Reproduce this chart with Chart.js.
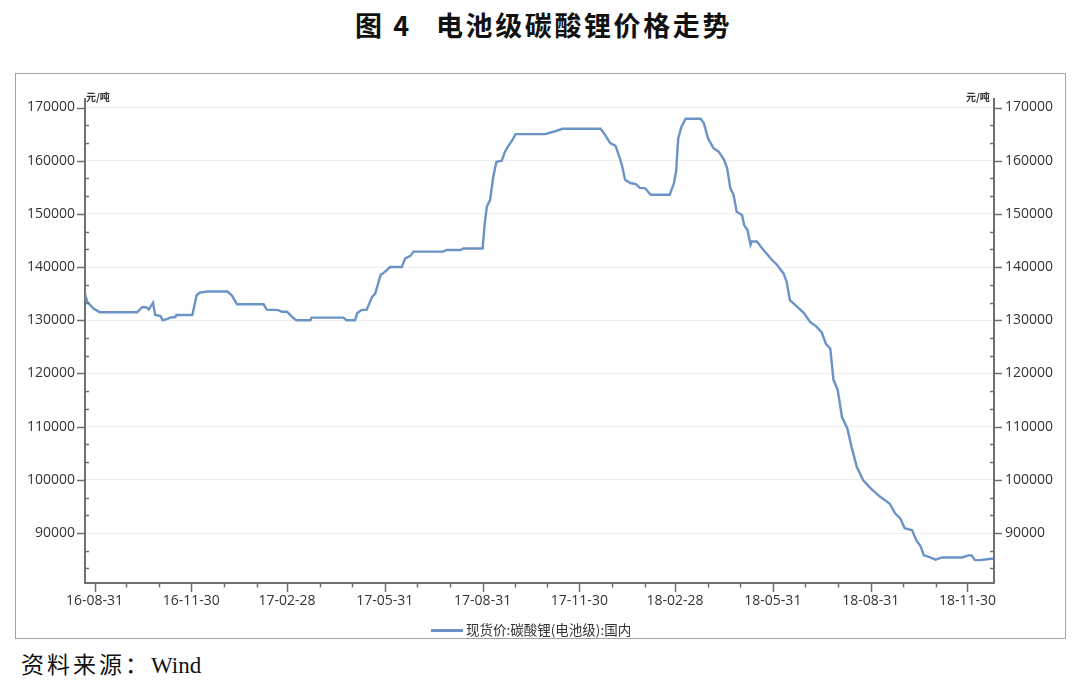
<!DOCTYPE html>
<html>
<head>
<meta charset="utf-8">
<script src="https://cdn.jsdelivr.net/npm/chart.js@4.4.1/dist/chart.umd.min.js"></script>
<style>
  html, body { margin: 0; padding: 0; background: #fff; }
  body { width: 1080px; height: 690px; position: relative; overflow: hidden; font-family: "Noto Sans CJK SC", sans-serif; }
  .title { position: absolute; top: 11px; font-size: 27px; line-height: 28px; font-weight: bold; color: #111; letter-spacing: 2.6px; }
  #frame { position: absolute; left: 15px; top: 73px; width: 1051px; height: 566px; box-sizing: border-box; border: 1.5px solid #a3a3a3; }
  #wrap { position: absolute; left: 15px; top: 73px; width: 1051px; height: 566px; }
  .unit { position: absolute; top: 91px; font-size: 10px; line-height: 11px; color: #333; font-weight: bold; }
  #legend { position: absolute; left: 431px; top: 620px; font-size: 13.5px; line-height: 18px; color: #333; white-space: nowrap; }
  #legend .swatch { display: inline-block; width: 32px; height: 2.5px; background: #6b93c6; vertical-align: middle; margin-right: 3px; position: relative; top: -1px; }
  #source { position: absolute; left: 21px; top: 650px; font-size: 23px; line-height: 26px; color: #111; font-family: "Liberation Serif", "Noto Sans CJK SC", serif; }
  #source .cn { font-family: "Noto Sans CJK SC", sans-serif; letter-spacing: 3px; }
</style>
</head>
<body>
<div class="title" style="left:355px">图 4</div>
<div class="title" style="left:436px">电池级碳酸锂价格走势</div>
<div id="frame"></div>
<div id="wrap"><canvas id="priceChart"></canvas></div>
<span class="unit" style="left:86px">元/吨</span>
<span class="unit" style="left:966px">元/吨</span>
<div id="legend"><span class="swatch"></span>现货价:碳酸锂(电池级):国内</div>
<div id="source"><span class="cn">资料来源：</span>Wind</div>
<script>
// Spot price, battery-grade lithium carbonate (yuan/ton)
const dates = [
  "2016-08-22", "2016-08-24", "2016-08-30", "2016-09-05", "2016-10-10", "2016-10-15", "2016-10-19", "2016-10-21", "2016-10-25", "2016-10-27",
  "2016-11-01", "2016-11-03", "2016-11-07", "2016-11-10", "2016-11-15", "2016-11-16", "2016-12-01", "2016-12-05", "2016-12-08", "2016-12-15",
  "2017-01-03", "2017-01-07", "2017-01-12", "2017-02-06", "2017-02-09", "2017-02-20", "2017-02-23", "2017-02-28", "2017-03-06", "2017-03-09",
  "2017-03-22", "2017-03-23", "2017-04-22", "2017-04-25", "2017-05-03", "2017-05-05", "2017-05-09", "2017-05-14", "2017-05-19", "2017-05-22",
  "2017-05-27", "2017-05-31", "2017-06-05", "2017-06-16", "2017-06-19", "2017-06-24", "2017-06-27", "2017-07-25", "2017-07-28", "2017-08-10",
  "2017-08-13", "2017-08-31", "2017-09-02", "2017-09-04", "2017-09-07", "2017-09-10", "2017-09-13", "2017-09-18", "2017-09-21", "2017-09-24",
  "2017-09-28", "2017-10-01", "2017-10-29", "2017-11-03", "2017-11-07", "2017-11-14", "2017-12-20", "2017-12-24", "2017-12-29", "2018-01-03",
  "2018-01-06", "2018-01-09", "2018-01-12", "2018-01-17", "2018-01-22", "2018-01-26", "2018-01-31", "2018-02-05", "2018-02-23", "2018-02-27",
  "2018-03-01", "2018-03-03", "2018-03-06", "2018-03-10", "2018-03-24", "2018-03-27", "2018-03-31", "2018-04-05", "2018-04-10", "2018-04-15",
  "2018-04-18", "2018-04-21", "2018-04-24", "2018-04-27", "2018-05-02", "2018-05-04", "2018-05-07", "2018-05-10", "2018-05-11", "2018-05-16",
  "2018-05-21", "2018-05-29", "2018-06-04", "2018-06-10", "2018-06-13", "2018-06-16", "2018-06-23", "2018-06-29", "2018-07-05", "2018-07-11",
  "2018-07-16", "2018-07-20", "2018-07-24", "2018-07-27", "2018-07-31", "2018-08-04", "2018-08-09", "2018-08-13", "2018-08-18", "2018-08-24",
  "2018-08-31", "2018-09-09", "2018-09-18", "2018-09-23", "2018-09-28", "2018-10-02", "2018-10-09", "2018-10-13", "2018-10-17", "2018-10-20",
  "2018-10-26", "2018-10-31", "2018-11-06", "2018-11-25", "2018-12-01", "2018-12-04", "2018-12-07", "2018-12-12", "2018-12-24"
]
const prices = [
  135000, 133500, 132200, 131500, 131500, 132500, 132400, 132000, 133300, 131000,
  130800, 130000, 130200, 130500, 130600, 131000, 131000, 134700, 135200, 135400,
  135400, 134700, 133000, 133000, 132000, 131900, 131600, 131600, 130400, 130000,
  130000, 130500, 130500, 130000, 130000, 131300, 131900, 132000, 134400, 135000,
  138500, 139100, 140000, 140000, 141600, 142100, 142900, 142900, 143200, 143200,
  143500, 143500, 148200, 151400, 152600, 157000, 159800, 160000, 161700, 162700,
  163900, 165000, 165000, 165300, 165500, 166000, 166000, 164900, 163300, 162800,
  161100, 159200, 156400, 155800, 155600, 154900, 154800, 153600, 153600, 155800,
  158000, 164200, 166400, 167900, 167900, 167100, 164200, 162400, 161700, 160200,
  158600, 154800, 153600, 150400, 149800, 147900, 147000, 144200, 144800, 144800,
  143500, 141600, 140400, 138800, 137200, 133800, 132500, 131400, 129700, 128800,
  127700, 125500, 124700, 118800, 116900, 111800, 109700, 106200, 102400, 99900,
  98400, 96800, 95500, 93700, 92700, 90900, 90500, 88600, 87500, 85800,
  85400, 85000, 85400, 85400, 85800, 85800, 84900, 84900, 85200
]
const xTickDates = ["2016-08-31", "2016-11-30", "2017-02-28", "2017-05-31", "2017-08-31", "2017-11-30", "2018-02-28", "2018-05-31", "2018-08-31", "2018-11-30"]
const xTickLabels = ["16-08-31", "16-11-30", "17-02-28", "17-05-31", "17-08-31", "17-11-30", "18-02-28", "18-05-31", "18-08-31", "18-11-30"]
const yTicks = [90000, 100000, 110000, 120000, 130000, 140000, 150000, 160000, 170000]
const xRange = ["2016-08-22", "2018-12-25"]
const yRange = [80600, 171600]

const LINE = "#6b93c6"
const AXIS = "#707070"

// day number relative to the first labelled date
const base = Date.UTC(2016, 7, 31)
function dayNum(s) {
  const p = s.split("-").map(Number)
  return Math.round((Date.UTC(p[0], p[1] - 1, p[2]) - base) / 86400000)
}

const points = dates.map((d, i) => ({ x: dayNum(d), y: prices[i] }))
const majorX = xTickDates.map(dayNum)

// month ends between the first and last labelled date, for the small tick marks
const monthEnds = []
for (let m = 0; m <= 27; m++) {
  const t = Date.UTC(2016, 8 + m, 0)
  monthEnds.push(Math.round((t - base) / 86400000))
}

// minor y ticks every third of a major step
const minorY = []
for (let v = yTicks[0] - 10000; v <= yTicks[yTicks.length - 1]; v += 10000) {
  ;[10000 / 3, 20000 / 3].forEach((o) => {
    const val = v + o
    if (val > yRange[0] + 200 && val < yRange[1]) minorY.push(val)
  })
}

const tickFont = { family: "'Open Sans', 'DejaVu Sans', sans-serif", size: 14 }

const tickMarks = {
  id: "tickMarks",
  afterDatasetsDraw(chart) {
    const { ctx, scales } = chart
    const x = scales.x
    const y = scales.y
    ctx.save()
    ctx.strokeStyle = AXIS
    ctx.lineWidth = 1.5
    ctx.beginPath()
    yTicks.forEach((v) => {
      const py = Math.round(y.getPixelForValue(v)) + 0.5
      ctx.moveTo(x.left - 8, py)
      ctx.lineTo(x.left, py)
      ctx.moveTo(x.right, py)
      ctx.lineTo(x.right + 8, py)
    })
    minorY.forEach((v) => {
      const py = Math.round(y.getPixelForValue(v)) + 0.5
      ctx.moveTo(x.left, py)
      ctx.lineTo(x.left + 4, py)
      ctx.moveTo(x.right, py)
      ctx.lineTo(x.right - 4, py)
    })
    monthEnds.forEach((v) => {
      const px = Math.round(x.getPixelForValue(v)) + 0.5
      const len = majorX.includes(v) ? 9 : 4.5
      ctx.moveTo(px, y.bottom)
      ctx.lineTo(px, y.bottom + len)
    })
    ctx.stroke()
    ctx.restore()
  },
}

const ctx = document.getElementById("priceChart").getContext("2d")
new Chart(ctx, {
  type: "line",
  data: {
    datasets: [
      {
        label: "现货价:碳酸锂(电池级):国内",
        data: points,
        borderColor: LINE,
        borderWidth: 2.4,
        pointRadius: 0,
        tension: 0,
        fill: false,
        yAxisID: "y",
      },
    ],
  },
  options: {
    responsive: true,
    maintainAspectRatio: false,
    animation: false,
    layout: { padding: { top: 26, left: 0, right: 0, bottom: 0 } },
    plugins: {
      legend: { display: false },
      tooltip: { enabled: false },
    },
    scales: {
      x: {
        type: "linear",
        min: dayNum(xRange[0]),
        max: dayNum(xRange[1]),
        afterBuildTicks: (scale) => {
          scale.ticks = majorX.map((v) => ({ value: v }))
        },
        afterFit: (scale) => {
          scale.height = 56
        },
        ticks: {
          autoSkip: false,
          maxRotation: 0,
          padding: 10,
          color: "#333",
          font: tickFont,
          callback: (v) => xTickLabels[majorX.indexOf(v)],
        },
        grid: { display: false, drawTicks: false },
        border: { display: true, color: AXIS, width: 2 },
      },
      y: {
        position: "left",
        min: yRange[0],
        max: yRange[1],
        afterBuildTicks: (scale) => {
          scale.ticks = yTicks.map((v) => ({ value: v }))
        },
        afterFit: (scale) => {
          scale.width = 70
        },
        ticks: {
          padding: 10,
          color: "#333",
          font: tickFont,
          callback: (v) => String(v),
        },
        grid: { color: "#eeeeee", lineWidth: 1, drawTicks: false },
        border: { display: true, color: AXIS, width: 2 },
      },
      y2: {
        position: "right",
        min: yRange[0],
        max: yRange[1],
        afterBuildTicks: (scale) => {
          scale.ticks = yTicks.map((v) => ({ value: v }))
        },
        afterFit: (scale) => {
          scale.width = 72
        },
        ticks: {
          padding: 11,
          color: "#333",
          font: tickFont,
          callback: (v) => String(v),
        },
        grid: { drawOnChartArea: false, drawTicks: false },
        border: { display: true, color: AXIS, width: 2 },
      },
    },
  },
  plugins: [tickMarks],
})
</script>
</body>
</html>
